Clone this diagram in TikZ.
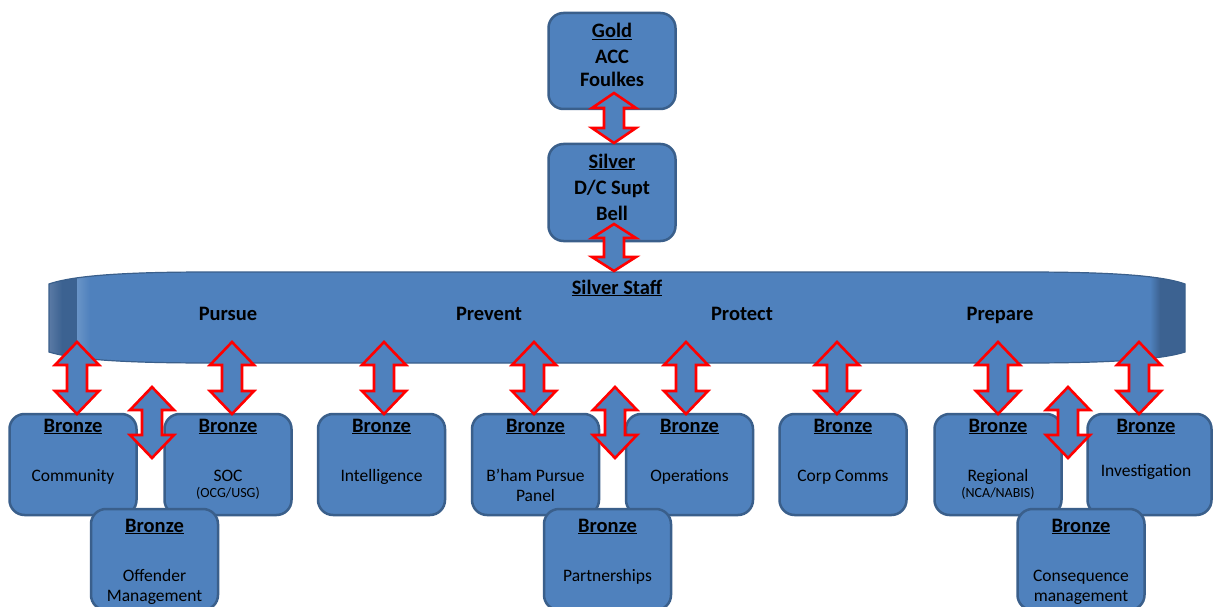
\documentclass[tikz,border=0pt]{standalone}
\usepackage{fontspec}
\setmainfont{Carlito}
\usetikzlibrary{calc}
\definecolor{boxblue}{HTML}{4F81BD}
\definecolor{boxedge}{HTML}{3A5F8B}
\definecolor{capdark}{HTML}{3C6291}
\definecolor{caplight}{HTML}{5A7AA5}
\newcommand\udarrow[3]{%
  \draw[barrow] (#1) -- ($(#1)+(22,#3)$) -- ($(#1)+(10,#3)$) -- ($(#2)+(10,-#3)$)
    -- ($(#2)+(22,-#3)$) -- (#2) -- ($(#2)+(-22,-#3)$) -- ($(#2)+(-10,-#3)$)
    -- ($(#1)+(-10,#3)$) -- ($(#1)+(-22,#3)$) -- cycle;}
\begin{document}
\begin{tikzpicture}[x=1pt,y=-1pt,
  box/.style={draw=boxedge, line width=2.5pt, fill=boxblue, rounded corners=15pt,
    minimum width=127pt, minimum height=101pt, inner sep=0pt},
  ttl/.style={font=\fontsize{20.5}{25.5}\selectfont\bfseries, inner sep=0pt, anchor=base},
  dsc/.style={font=\fontsize{17.5}{21}\selectfont, inner sep=0pt, anchor=base},
  sml/.style={font=\fontsize{14}{17}\selectfont, inner sep=0pt, anchor=base},
  barrow/.style={draw=red, line width=2.6pt, fill=boxblue, line join=miter}]
\useasboundingbox (0,0) rectangle (1213,607);
\fill[white] (0,0) rectangle (1213,607);

% ---- Silver Staff bar ----
\node[minimum width=1136pt, minimum height=91pt, inner sep=0pt] (bar) at (617,317.5) {};
\def\barpath{(49,284) .. controls (75,275) and (130,272) .. (210,272) -- (1025,272)
  .. controls (1105,272) and (1160,275) .. (1185,284) -- (1185,352)
  .. controls (1160,360) and (1105,363) .. (1025,363) -- (210,363)
  .. controls (130,363) and (75,360) .. (49,352) -- cycle}
\fill[boxblue] \barpath;
\begin{scope}
  \clip \barpath;
  \shade[left color=caplight, right color=capdark] (49,260) rectangle (62,370);
  \fill[capdark] (61.5,260) rectangle (77,370);
  \shade[left color=boxblue!85!white, right color=boxblue] (77,260) rectangle (90,370);
  \shade[left color=boxblue, right color=capdark] (1150,260) rectangle (1160,370);
  \fill[capdark] (1159.5,260) rectangle (1185,370);
\end{scope}
\draw[boxedge, line width=1.2pt] \barpath;

% ---- Gold / Silver ----
\node[box, minimum height=96pt] (gold) at (612,61) {};
\node[box, minimum height=97pt] (silver) at (612,192.5) {};

% ---- Bronze row 1 ----
\node[box] (b1) at (73,464.5) {};
\node[box] (b2) at (228,464.5) {};
\node[box] (b3) at (381.5,464.5) {};
\node[box] (b4) at (535.5,464.5) {};
\node[box] (b5) at (689.5,464.5) {};
\node[box] (b6) at (843,464.5) {};
\node[box] (b7) at (998,464.5) {};
\node[box, minimum width=124pt] (b8) at (1149.5,464.5) {};
% ---- Bronze row 2 ----
\node[box] (c1) at (154.5,559.5) {};
\node[box] (c2) at (607.5,559.5) {};
\node[box] (c3) at (1081,559.5) {};

% ---- arrow end points ----
\coordinate (gs-t) at (614,93);  \coordinate (gs-b) at (614,143);
\coordinate (sb-t) at (614,224); \coordinate (sb-b) at (614,271);
\foreach \n/\x in {1/77,2/232,3/384,4/534,5/686,6/837,7/998,8/1139}{
  \coordinate (a\n-t) at (\x,342); \coordinate (a\n-b) at (\x,414);}
\foreach \n/\x in {1/152,2/615,3/1068}{
  \coordinate (d\n-t) at (\x,387); \coordinate (d\n-b) at (\x,458);}

\udarrow{gs-t}{gs-b}{15}
\udarrow{sb-t}{sb-b}{14}
\foreach \n in {1,...,8}{\udarrow{a\n-t}{a\n-b}{23}}
\foreach \n in {1,2,3}{\udarrow{d\n-t}{d\n-b}{23}}

% ---- texts ----
\node[ttl] (gold-1) at (612,38) {\underline{Gold}};
\node[ttl] (gold-2) at (612,64) {ACC};
\node[ttl] (gold-3) at (612,87) {Foulkes};
\node[ttl] (silver-1) at (612,168) {\underline{Silver}};
\node[ttl] (silver-2) at (612,194) {D/C Supt};
\node[ttl] (silver-3) at (612,220) {Bell};

\node[ttl] (bar-0) at (617,294) {\underline{Silver Staff}};
\node[ttl] (bar-1) at (228,320) {Pursue};
\node[ttl] (bar-2) at (489,320) {Prevent};
\node[ttl] (bar-3) at (742,320) {Protect};
\node[ttl] (bar-4) at (1000,320) {Prepare};

\foreach \n/\x in {1/73,2/228,3/381.5,4/535.5,5/689.5,6/843,7/998,8/1146}{
  \node[ttl] (b\n-t) at (\x,432) {\underline{Bronze}};}
\foreach \n/\x in {1/154.5,2/607.5,3/1081}{
  \node[ttl] (c\n-t) at (\x,532) {\underline{Bronze}};}

\node[dsc] (b1-d) at (73,481) {Community};
\node[dsc] (b2-d) at (228,481) {SOC};
\node[sml] (b2-e) at (228,497) {(OCG/USG)};
\node[dsc] (b3-d) at (381.5,481) {Intelligence};
\node[dsc] (b4-d) at (535.5,481) {B’ham Pursue};
\node[dsc] (b4-e) at (535.5,501) {Panel};
\node[dsc] (b5-d) at (689.5,481) {Operations};
\node[dsc] (b6-d) at (843,481) {Corp Comms};
\node[dsc] (b7-d) at (998,481) {Regional};
\node[sml] (b7-e) at (998,497) {(NCA/NABIS)};
\node[dsc] (b8-d) at (1146,476) {Investigation};
\node[dsc] (c1-d) at (154.5,581) {Offender};
\node[dsc] (c1-e) at (154.5,601) {Management};
\node[dsc] (c2-d) at (607.5,581) {Partnerships};
\node[dsc] (c3-d) at (1081,581) {Consequence};
\node[dsc] (c3-e) at (1081,601) {management};
\end{tikzpicture}
\end{document}
